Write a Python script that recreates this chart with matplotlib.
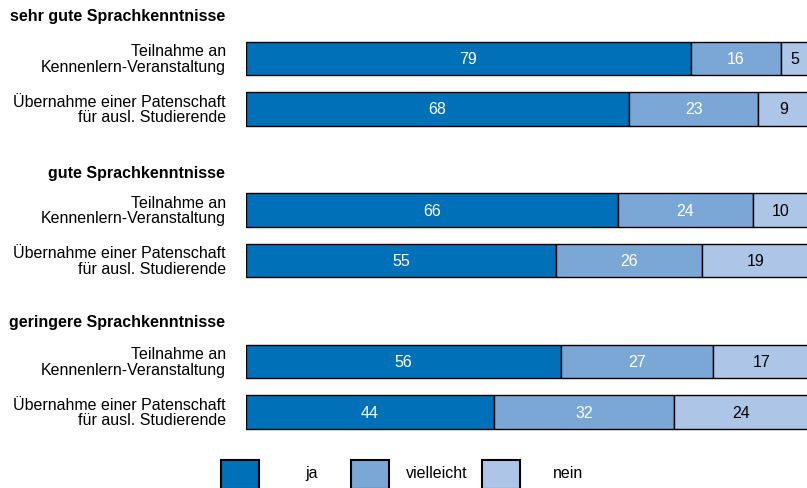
import matplotlib
matplotlib.use('Agg')
import matplotlib.pyplot as plt
from matplotlib.patches import Rectangle
import numpy as np

plt.rcParams['font.family'] = ['Liberation Sans', 'DejaVu Sans']

groups = ['sehr gute Sprachkenntnisse', 'gute Sprachkenntnisse', 'geringere Sprachkenntnisse']
items = ['Teilnahme an\nKennenlern-Veranstaltung',
         'Übernahme einer Patenschaft\nfür ausl. Studierende']
ja = [79, 68, 66, 55, 56, 44]
vielleicht = [16, 23, 24, 26, 27, 32]
nein = [5, 9, 10, 19, 17, 24]
series = ['ja', 'vielleicht', 'nein']
colors = ['#0070b8', '#7ba7d7', '#adc5e6']
text_colors = ['white', 'white', 'black']

pos = [0, 1, 3, 4, 6, 7]

fig = plt.figure(figsize=(8.07, 4.89), dpi=100)
ax = fig.add_axes([246 / 807, 0, 561 / 807, 1])
ax.set_xlim(0, 100 * 561 / 563)
ax.set_ylim((489 - 59.5) / 50.5, -59.5 / 50.5)
ax.axis('off')

left = np.zeros(len(ja))
for vals, col, tc in zip([ja, vielleicht, nein], colors, text_colors):
    ax.barh(pos, vals, left=left, height=0.67, color=col, edgecolor='black', linewidth=1)
    for p, v, l in zip(pos, vals, left):
        ax.text(l + v / 2, p, str(v), ha='center', va='center', color=tc, fontsize=11.5)
    left = left + np.array(vals)

for i, p in enumerate(pos):
    fig.text(226 / 807, 1 - (59.5 + 50.5 * p) / 489, items[i % 2], ha='right', va='center',
             fontsize=11.5, linespacing=1.05)

header_y = [17, 174, 323]
for g, hy in zip(groups, header_y):
    fig.text(225 / 807, 1 - hy / 489, g, ha='right', va='center', fontsize=11.5, fontweight='bold')

box_x = [221, 351, 482]
lab_x = [305, 406, 553]
for bx, lx, col, s in zip(box_x, lab_x, colors, series):
    fig.patches.append(Rectangle((bx / 807, 1 - 490 / 489), 38 / 807, 29 / 489,
                                 transform=fig.transFigure, facecolor=col,
                                 edgecolor='black', linewidth=1.5))
    fig.text(lx / 807, 1 - 474 / 489, s, ha='left', va='center', fontsize=11.5)

fig.savefig('out.png', dpi=100)
